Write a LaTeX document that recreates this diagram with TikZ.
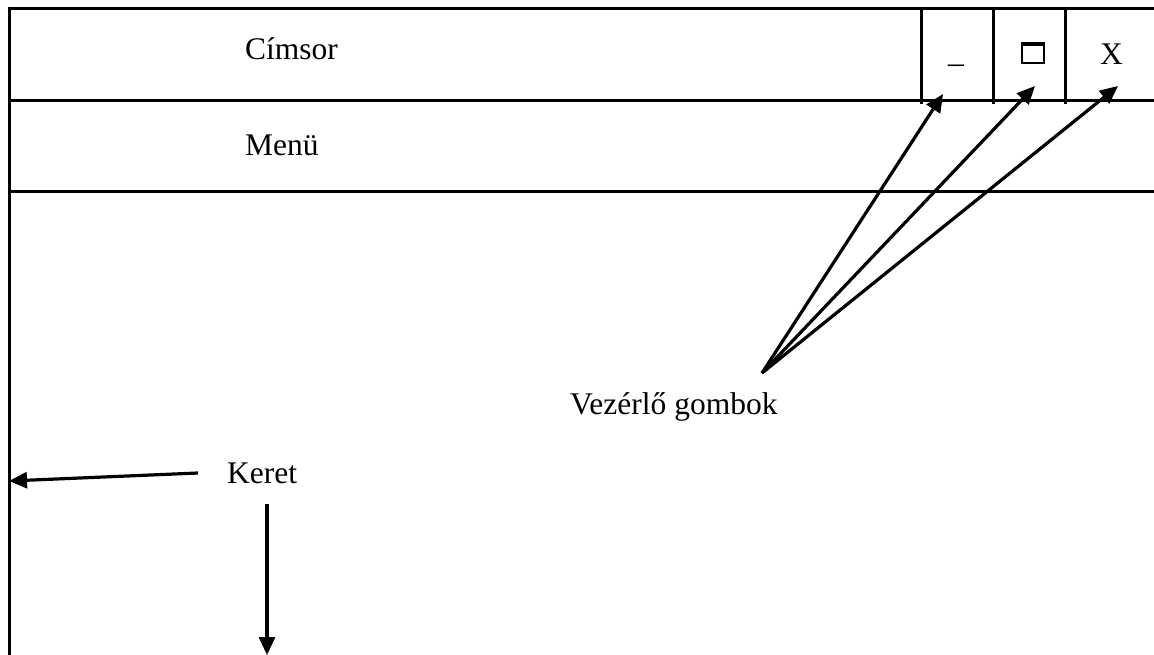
\documentclass[tikz,border=0pt]{standalone}
\usepackage{fontspec}
\setmainfont{Liberation Serif}
\usetikzlibrary{arrows.meta}

\begin{document}
\begin{tikzpicture}[x=1pt,y=-1pt]
    \tikzstyle{lbl}=[anchor=base west, inner sep=0pt, font=\fontsize{31.5}{36}\selectfont]
    \tikzstyle{frame}=[line width=3pt]
    \tikzstyle{ptr}=[line width=3.2pt, -{Triangle[length=18pt,width=16pt]}]
    \useasboundingbox (0,0) rectangle (1154,655);

    % window frame
    \draw[frame] (1154,9) -- (9,9) -- (9,655);
    \draw[frame] (9,101) -- (1154,101);
    \draw[frame] (9,192) -- (1154,192);
    \foreach \bx in {921,993,1065}
        \draw[frame] (\bx,9) -- (\bx,104);

    \node[lbl] (title) at (245,60) {Címsor};
    \node[lbl] (menu) at (245,156) {Menü};
    \node[lbl] (minbtn) at (948,63) {\_};
    \draw[line width=2.2pt] (1022,43) rectangle (1044,63);
    \draw[line width=4pt] (1021,44) -- (1045,44);
    \coordinate (maxbtn) at (1033,53);
    \node[lbl] (closebtn) at (1100,65) {X};

    \node[lbl] (vez) at (570,414) {Vezérlő gombok};
    \node[lbl] (keret) at (227,483) {Keret};

    % arrows
    \coordinate (vezsrc) at (762,373);
    \coordinate (minend) at (943,94);
    \coordinate (maxend) at (1035,86);
    \coordinate (closeend) at (1118,86);
    \draw[ptr] (vezsrc) -- (minend);
    \draw[ptr] (vezsrc) -- (maxend);
    \draw[ptr] (vezsrc) -- (closeend);

    \coordinate (kleft) at (198,473);
    \coordinate (kdown) at (267,504);
    \draw[ptr] (kleft) -- (9,481);
    \draw[ptr] (kdown) -- (267,655);
\end{tikzpicture}
\end{document}
